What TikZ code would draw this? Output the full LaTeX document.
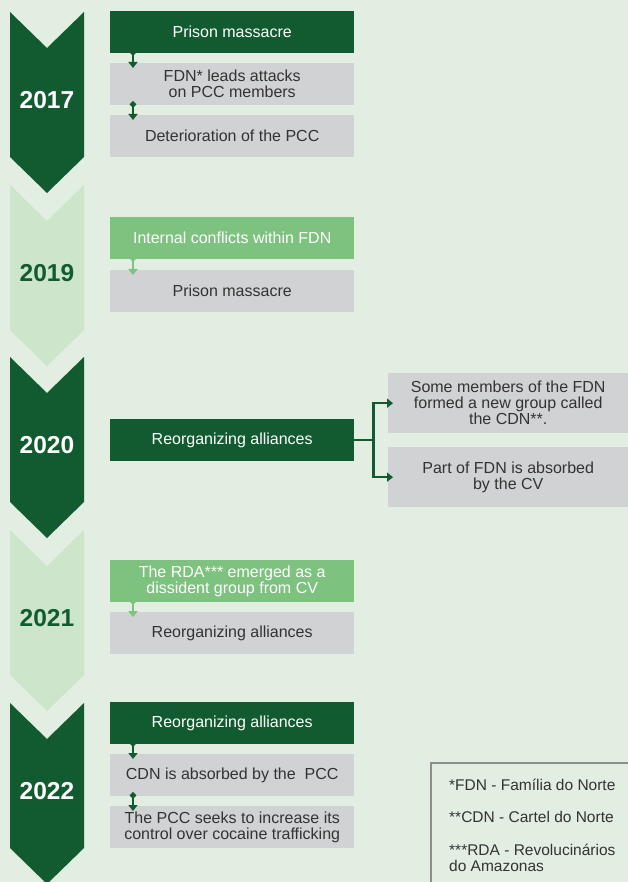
\documentclass[tikz,border=0pt]{standalone}
\usepackage{fontspec}
\setmainfont{Liberation Sans}
\usetikzlibrary{arrows.meta,calc}

\definecolor{pagebg}{HTML}{E2EEE1}
\definecolor{chevlight}{HTML}{CDE5CB}
\definecolor{dkgreen}{HTML}{125B30}
\definecolor{midgreen}{HTML}{7DC27E}
\definecolor{boxgray}{HTML}{D1D2D4}
\definecolor{textdark}{HTML}{333333}
\definecolor{legendgray}{HTML}{8E8E8E}

\begin{document}
\begin{tikzpicture}[x=1pt,y=-1pt,
  evbox/.style={minimum width=244pt, minimum height=42pt, inner sep=0pt,
    anchor=north west, align=center, font=\fontsize{16}{16}\selectfont},
  darkbox/.style={evbox, fill=dkgreen, text=white},
  lightbox/.style={evbox, fill=midgreen, text=white},
  graybox/.style={evbox, fill=boxgray, text=textdark},
  sidebox/.style={graybox, minimum width=240pt, minimum height=60pt},
  yeardark/.style={font=\fontsize{24.5}{24.5}\selectfont\bfseries, text=white},
  yearlight/.style={yeardark, text=dkgreen},
  link/.style={line width=2.2pt,
    {Circle[length=6pt,width=6pt]}-{Triangle[width=9pt,length=6pt]}},
  linkdark/.style={link, draw=dkgreen},
  linklight/.style={link, draw=midgreen},
  branch/.style={line width=2.2pt, draw=dkgreen,
    -{Triangle[width=9pt,length=6pt]}},
  legendtext/.style={anchor=west, inner sep=0pt, align=left, text=textdark,
    font=\fontsize{15.5}{16}\selectfont}
]
\useasboundingbox (0,0) rectangle (628,882);
\fill[pagebg] (0,0) rectangle (628,882);

% year chevrons
\foreach \t/\c in {12/dkgreen,185/chevlight,357/dkgreen,530/chevlight,703/dkgreen}
  \fill[\c] (10,\t) -- ++(37,36) -- ++(37,-36) -- ++(0,145) -- ++(-37,36) -- ++(-37,-36) -- cycle;

\node[yeardark]  (y17) at (47,100) {2017};
\node[yearlight] (y19) at (47,273) {2019};
\node[yeardark]  (y20) at (47,445) {2020};
\node[yearlight] (y21) at (47,618) {2021};
\node[yeardark]  (y22) at (47,791) {2022};

% 2017
\node[darkbox] (p17) at (110,11) {Prison massacre};
\node[graybox] (f17) at (110,63) {FDN* leads attacks\\on PCC members};
\node[graybox] (d17) at (110,115) {Deterioration of the PCC};
\draw[linkdark] ($(p17.south west)+(23,-4)$) -- ($(f17.north west)+(23,5)$);
\draw[linkdark] ($(f17.south west)+(23,-4)$) -- ($(d17.north west)+(23,5)$);

% 2019
\node[lightbox] (i19) at (110,217) {Internal conflicts within FDN};
\node[graybox]  (p19) at (110,270) {Prison massacre};
\draw[linklight] ($(i19.south west)+(23,-4)$) -- ($(p19.north west)+(23,5)$);

% 2020
\node[darkbox] (r20) at (110,419) {Reorganizing alliances};
\node[sidebox] (a20) at (388,373) {Some members of the FDN\\formed a new group called\\the CDN**.};
\node[sidebox] (b20) at (388,447) {Part of FDN is absorbed\\by the CV};
\draw[branch] (r20.east) -- ++(19,0) |- ($(a20.west)+(5,0)$);
\draw[branch] (r20.east) -- ++(19,0) |- ($(b20.west)+(5,0)$);

% 2021
\node[lightbox] (e21) at (110,560) {The RDA*** emerged as a\\dissident group from CV};
\node[graybox]  (r21) at (110,612) {Reorganizing alliances};
\draw[linklight] ($(e21.south west)+(23,-4)$) -- ($(r21.north west)+(23,5)$);

% 2022
\node[darkbox] (r22) at (110,702) {Reorganizing alliances};
\node[graybox] (c22) at (110,754) {CDN is absorbed by the\ \ PCC};
\node[graybox] (s22) at (110,806) {The PCC seeks to increase its\\control over cocaine trafficking};
\draw[linkdark] ($(r22.south west)+(23,-4)$) -- ($(c22.north west)+(23,5)$);
\draw[linkdark] ($(c22.south west)+(23,-4)$) -- ($(s22.north west)+(23,5)$);

% legend
\draw[legendgray, line width=1.5pt] (431,763) rectangle (645,900);
\node[legendtext] (l1) at (449,785) {*FDN - Família do Norte};
\node[legendtext] (l2) at (449,817) {**CDN - Cartel do Norte};
\node[legendtext] (l3) at (449,858) {***RDA - Revolucinários\\do Amazonas};
\end{tikzpicture}
\end{document}
